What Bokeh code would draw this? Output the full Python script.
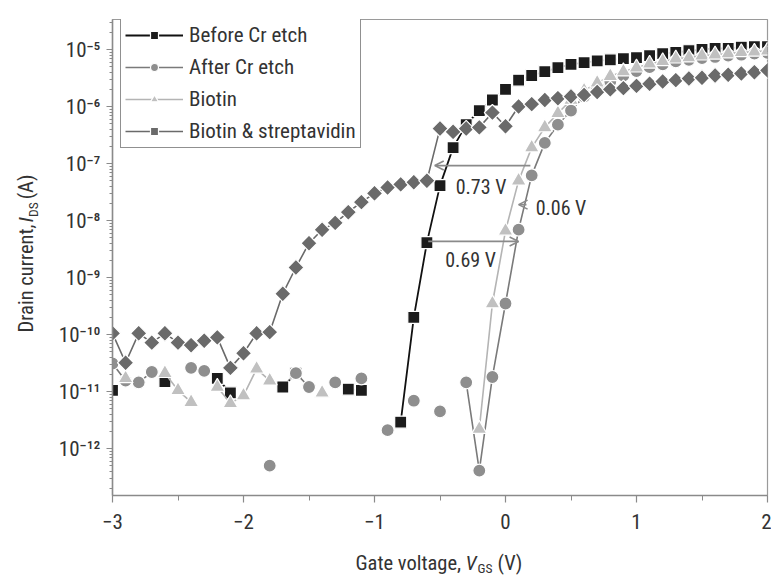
import math

from bokeh.plotting import figure
from bokeh.layouts import column, row
from bokeh.core.properties import value
from bokeh.models import (Range1d, FixedTicker, CustomJSTickFormatter, Legend,
                          LegendItem, Arrow, OpenHead, Label)
from bokeh.embed import file_html
from bokeh.resources import INLINE

FONT = "Roboto Condensed, Roboto"

# ---- transfer curves: gate voltage (V) and drain current (A) ----
before_vgs = [-3.0, -2.6, -2.2, -2.1, -1.7, -1.6, -1.2, -1.1,
              -0.8, -0.7, -0.6, -0.5, -0.4, -0.3, -0.2, -0.1,
              0.0, 0.1, 0.2, 0.3, 0.4, 0.5, 0.6, 0.7, 0.8, 0.9,
              1.0, 1.1, 1.2, 1.3, 1.4, 1.5, 1.6, 1.7, 1.8, 1.9, 2.0]
before_ids = [1.05e-11, 1.5e-11, 1.7e-11, 9.5e-12, 1.2e-11, 2.1e-11, 1.1e-11, 1.05e-11,
              2.9e-12, 2.0e-10, 4.1e-9, 4.1e-8, 1.9e-7, 4.8e-7, 8.5e-7, 1.3e-6,
              2.0e-6, 2.9e-6, 3.5e-6, 4.1e-6, 4.8e-6, 5.5e-6, 5.9e-6, 6.3e-6, 6.6e-6, 6.9e-6,
              7.2e-6, 7.8e-6, 8.5e-6, 8.9e-6, 9.5e-6, 1.0e-5, 1.05e-5, 1.05e-5, 1.1e-5, 1.12e-5, 1.12e-5]

after_vgs = [-3.0, -2.9, -2.8, -2.7, -2.4, -2.3, -1.8, -1.6, -1.5, -1.3, -1.1,
             -0.9, -0.7, -0.5, -0.3, -0.2, -0.1,
             0.0, 0.1, 0.2, 0.3, 0.4, 0.5, 0.6, 0.7, 0.8, 0.9,
             1.0, 1.1, 1.2, 1.3, 1.4, 1.5, 1.6, 1.7, 1.8, 1.9, 2.0]
after_ids = [3.1e-11, 1.55e-11, 1.45e-11, 2.2e-11, 2.6e-11, 2.3e-11, 5.0e-13, 2.1e-11, 1.2e-11, 1.45e-11, 1.7e-11,
             2.1e-12, 6.9e-12, 4.5e-12, 1.45e-11, 4.1e-13, 1.8e-11,
             3.5e-10, 6.9e-9, 6.2e-8, 2.3e-7, 4.8e-7, 8.5e-7, 1.5e-6, 2.1e-6, 2.75e-6, 3.5e-6,
             4.2e-6, 4.9e-6, 5.5e-6, 6.2e-6, 6.6e-6, 7.1e-6, 7.4e-6, 7.8e-6, 8.1e-6, 8.5e-6, 8.7e-6]

biotin_vgs = [-2.9, -2.6, -2.5, -2.4, -2.2, -2.1, -2.0, -1.9, -1.8, -1.4,
              -0.2, -0.1,
              0.0, 0.1, 0.2, 0.3, 0.4, 0.5, 0.6, 0.7, 0.8, 0.9,
              1.0, 1.1, 1.2, 1.3, 1.4, 1.5, 1.6, 1.7, 1.8, 1.9, 2.0]
biotin_ids = [1.7e-11, 2.1e-11, 1.05e-11, 6.5e-12, 1.2e-11, 6.2e-12, 8.5e-12, 2.5e-11, 1.55e-11, 9.5e-12,
              2.2e-12, 3.5e-10,
              6.6e-9, 5.0e-8, 1.9e-7, 4.3e-7, 7.6e-7, 1.3e-6, 1.9e-6, 2.6e-6, 3.4e-6, 4.1e-6,
              4.8e-6, 5.6e-6, 6.2e-6, 6.9e-6, 7.2e-6, 7.8e-6, 8.1e-6, 8.5e-6, 8.9e-6, 9.1e-6, 9.5e-6]

strep_vgs = [-3.0, -2.9, -2.8, -2.7, -2.6, -2.5, -2.4, -2.3, -2.2, -2.1,
             -2.0, -1.9, -1.8, -1.7, -1.6, -1.5, -1.4, -1.3, -1.2, -1.1,
             -1.0, -0.9, -0.8, -0.7, -0.6, -0.5, -0.4, -0.3, -0.2, -0.1,
             0.0, 0.1, 0.2, 0.3, 0.4, 0.5, 0.6, 0.7, 0.8, 0.9,
             1.0, 1.1, 1.2, 1.3, 1.4, 1.5, 1.6, 1.7, 1.8, 1.9, 2.0]
strep_ids = [1.05e-10, 3.2e-11, 1.05e-10, 7.2e-11, 1.05e-10, 7.2e-11, 6.5e-11, 7.8e-11, 8.9e-11, 2.6e-11,
             4.7e-11, 1.05e-10, 1.1e-10, 5.2e-10, 1.5e-9, 4.0e-9, 6.9e-9, 9.1e-9, 1.4e-8, 2.1e-8,
             3.0e-8, 3.8e-8, 4.3e-8, 4.7e-8, 5.0e-8, 4.1e-7, 3.6e-7, 4.1e-7, 4.3e-7, 7.8e-7,
             4.5e-7, 1.0e-6, 1.1e-6, 1.3e-6, 1.4e-6, 1.5e-6, 1.6e-6, 1.8e-6, 2.0e-6, 2.1e-6,
             2.3e-6, 2.5e-6, 2.75e-6, 2.9e-6, 3.1e-6, 3.2e-6, 3.5e-6, 3.6e-6, 3.8e-6, 4.0e-6, 4.3e-6]

series_names = ["Before Cr etch", "After Cr etch", "Biotin", "Biotin & streptavidin"]

# threshold shifts marked with arrows: shift (V), start (V), current level (A), direction
shift_values = [0.73, 0.69, 0.06]
shift_starts = [0.19, -0.59, 0.16]
shift_levels = [9.2e-8, 4.3e-9, 1.9e-8]
shift_dirs = [-1, 1, -1]

x_ticks = [-3, -2, -1, 0, 1, 2]
x_tick_labels = ["\u22123", "\u22122", "\u22121", "0", "1", "2"]
y_exponents = [-12, -11, -10, -9, -8, -7, -6, -5]
y_tick_labels = ["10\u207b\u00b9\u00b2", "10\u207b\u00b9\u00b9", "10\u207b\u00b9\u2070", "10\u207b\u2079",
                 "10\u207b\u2078", "10\u207b\u2077", "10\u207b\u2076", "10\u207b\u2075"]

# axis titles, split so that the symbol can be italic and its index subscripted
x_title_parts = ["Gate voltage, ", "V", "GS", " (V)"]
y_title_parts = ["Drain current, ", "I", "DS", " (A)"]


def broken(xs, ys):
    """Insert NaN where voltage steps are missing so the line breaks there."""
    bx, by = [xs[0]], [ys[0]]
    for i in range(1, len(xs)):
        if xs[i] - xs[i - 1] > 0.15:
            bx.append(float("nan"))
            by.append(float("nan"))
        bx.append(xs[i])
        by.append(ys[i])
    return bx, by


def blank_panel(width, height):
    f = figure(width=width, height=height, output_backend="svg", toolbar_location=None,
               title=None, x_range=Range1d(0, width), y_range=Range1d(0, height),
               min_border=0, x_axis_type=None, y_axis_type=None)
    f.grid.visible = False
    f.outline_line_color = None
    f.background_fill_color = "white"
    f.border_fill_color = "white"
    return f


YPANEL_W = 46
p = figure(width=771 - YPANEL_W, height=540, output_backend="svg", toolbar_location=None,
           x_range=Range1d(-3, 2), y_range=Range1d(1.5e-13, 3.36e-5),
           y_axis_type="log",
           min_border_left=112 - YPANEL_W, min_border_right=4, min_border_top=19, min_border_bottom=45)
p.background_fill_color = "white"
p.border_fill_color = "white"
p.grid.visible = False
p.outline_line_color = "#9a9a9a"
p.outline_line_width = 1.2

# axes
p.xaxis.ticker = FixedTicker(ticks=x_ticks, minor_ticks=[-2.5, -1.5, -0.5, 0.5, 1.5])
p.xaxis.formatter = CustomJSTickFormatter(args=dict(vals=x_ticks, labs=x_tick_labels),
                                          code="const i = vals.indexOf(tick); return i < 0 ? '' : labs[i];")
y_ticks = [10.0 ** e for e in y_exponents]
y_minor = [m * 10.0 ** e for e in range(-13, -4) for m in range(2, 10)]
p.yaxis.ticker = FixedTicker(ticks=y_ticks, minor_ticks=y_minor)
p.yaxis.formatter = CustomJSTickFormatter(args=dict(vals=y_ticks, labs=y_tick_labels),
                                          code="const i = vals.indexOf(tick); return i < 0 ? '' : labs[i];")
for ax in (p.xaxis[0], p.yaxis[0]):
    ax.axis_line_color = "#8a8a8a"
    ax.axis_line_width = 1.5
    ax.major_tick_line_color = "#8a8a8a"
    ax.minor_tick_line_color = "#8a8a8a"
    ax.major_tick_line_width = 1.2
    ax.major_tick_in = 0
    ax.minor_tick_in = 0
    ax.major_label_text_font = FONT
    ax.major_label_text_font_size = "21px"
    ax.major_label_text_color = "#333333"
p.xaxis.major_tick_out = 7
p.xaxis.minor_tick_out = 5
p.xaxis.major_label_standoff = 11
p.yaxis.major_tick_out = 6
p.yaxis.minor_tick_out = 3
p.yaxis.major_label_standoff = 6

# ---- curves ----
styles = [
    dict(vgs=before_vgs, ids=before_ids, marker="square", size=12, angle=0.0,
         fill="#1c1c1c", line="#111111", lw=1.8),
    dict(vgs=after_vgs, ids=after_ids, marker="circle", size=13, angle=0.0,
         fill="#8e8e8e", line="#7a7a7a", lw=1.6),
    dict(vgs=biotin_vgs, ids=biotin_ids, marker="triangle", size=15, angle=0.0,
         fill="#c0c0c0", line="#b4b4b4", lw=1.6),
    dict(vgs=strep_vgs, ids=strep_ids, marker="square", size=11.5, angle=math.pi / 4,
         fill="#6a6a6a", line="#6a6a6a", lw=1.6),
]

items = []
for name, st in zip(series_names, styles):
    lx, ly = broken(st["vgs"], st["ids"])
    lr = p.line(lx, ly, line_color=st["line"], line_width=st["lw"])
    sr = p.scatter(st["vgs"], st["ids"], marker=st["marker"], size=st["size"], angle=st["angle"],
                   fill_color=st["fill"], line_color="white", line_width=1.2)
    items.append(LegendItem(label=name, renderers=[lr, sr]))

# legend placed by its lower-left corner, in pixels from the frame's lower-left corner
legend = Legend(items=items, location=(8, 347), padding=4, spacing=8,
                glyph_width=58, glyph_height=20, label_standoff=6, label_height=20,
                label_text_font=FONT, label_text_font_size="21px", label_text_color="#333333",
                border_line_color="#222222", border_line_width=1.6,
                background_fill_color="white", background_fill_alpha=1.0)
p.add_layout(legend)

# ---- threshold-shift arrows ----
for val, x0, lev, d in zip(shift_values, shift_starts, shift_levels, shift_dirs):
    p.add_layout(Arrow(x_start=x0, y_start=lev, x_end=x0 + d * val, y_end=lev,
                       line_color="#8a8a8a", line_width=1.6,
                       end=OpenHead(size=9, line_color="#8a8a8a", line_width=1.6)))

label_spots = [(-0.38, 9.2e-8 / 10 ** 0.37), (-0.46, 4.3e-9 / 10 ** 0.33), (0.23, 1.9e-8 / 10 ** 0.06)]
for val, (lx, ly) in zip(shift_values, label_spots):
    p.add_layout(Label(x=lx, y=ly, text=f"{val:.2f} V", text_font=FONT, text_font_size="20px",
                       text_color="#333333", text_baseline="middle", text_align="left"))

# ---- axis titles, drawn in thin panels beside the plot ----
xpanel = blank_panel(771, 38)
xkw = dict(text_font=value(FONT), text_color="#333333", text_baseline="alphabetic", text_align="left")
x0, base = 355, 16
xpanel.text(x=[x0], y=[base], text=[x_title_parts[0]], text_font_size="20.5px", **xkw)
xpanel.text(x=[x0 + 110], y=[base], text=[x_title_parts[1]], text_font_size="20.5px",
            text_font_style="italic", **xkw)
xpanel.text(x=[x0 + 122], y=[base - 5], text=[x_title_parts[2]], text_font_size="13.5px", **xkw)
xpanel.text(x=[x0 + 142], y=[base], text=[x_title_parts[3]], text_font_size="20.5px", **xkw)

# rotated pieces are anchored at the top of their text box, which lies to the left
ypanel = blank_panel(YPANEL_W, 540)
ykw = dict(text_font=value(FONT), text_color="#333333", text_baseline="top", text_align="left",
           angle=math.pi / 2)
top_x, y0 = 13, 185
ypanel.text(x=[top_x], y=[y0], text=[y_title_parts[0]], text_font_size="20.5px", **ykw)
ypanel.text(x=[top_x], y=[y0 + 125], text=[y_title_parts[1]], text_font_size="20.5px",
            text_font_style="italic", **ykw)
ypanel.text(x=[top_x + 11], y=[y0 + 131], text=[y_title_parts[2]], text_font_size="13.5px", **ykw)
ypanel.text(x=[top_x], y=[y0 + 151], text=[y_title_parts[3]], text_font_size="20.5px", **ykw)

layout = column(row(ypanel, p), xpanel)
open("out.html", "w").write(file_html(layout, INLINE))
